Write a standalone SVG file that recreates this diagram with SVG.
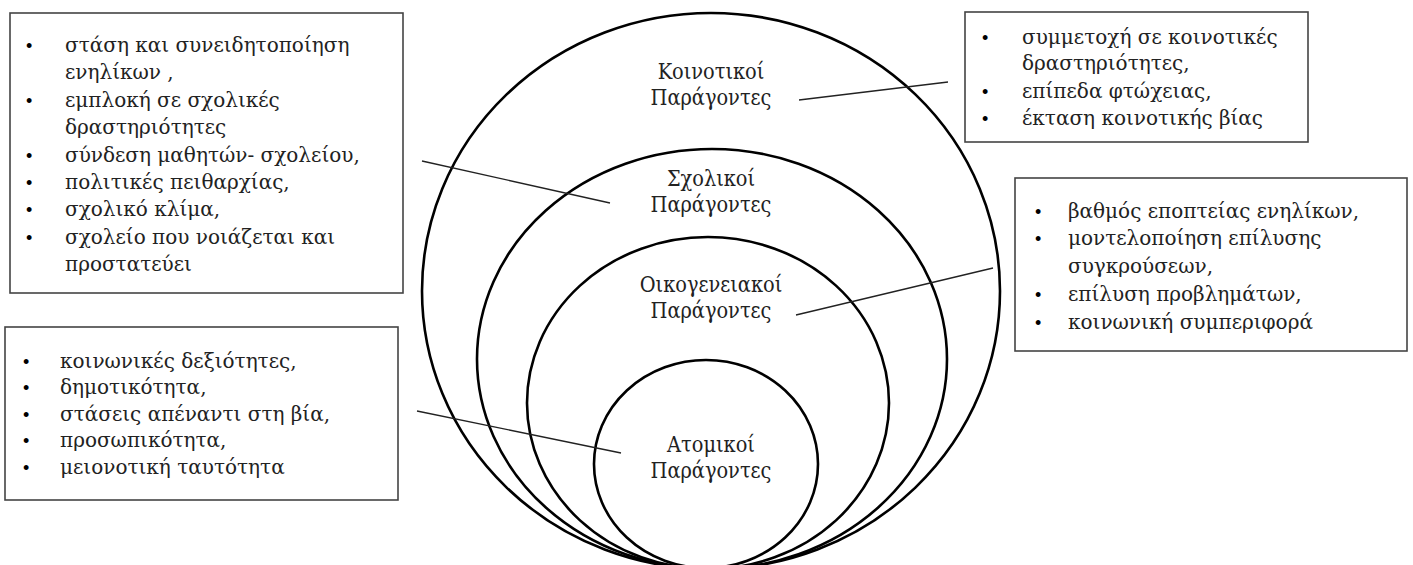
<svg xmlns="http://www.w3.org/2000/svg" width="1413" height="565" viewBox="0 0 1413 565">
<style>
.box{fill:#fff;stroke:#444;stroke-width:1.6}
.ring{fill:none;stroke:#000;stroke-width:2.6}
.t{font-family:"DejaVu Serif","Liberation Serif",serif;font-size:20px;fill:#222}
.b{font-family:"Liberation Sans",sans-serif;font-size:18px;fill:#000}
.lbl{font-family:"DejaVu Serif Condensed","DejaVu Serif","Liberation Serif",serif;font-size:21.5px;fill:#222;text-anchor:middle}
.ln{stroke:#222;stroke-width:1.3;fill:none}
</style>
<rect width="1413" height="565" fill="#fff"/>
<g id="rings">
<ellipse id="ring-community" class="ring" cx="711" cy="291" rx="289" ry="278"/>
<ellipse id="ring-school" class="ring" cx="712" cy="359" rx="235" ry="210"/>
<ellipse id="ring-family" class="ring" cx="708" cy="403" rx="181" ry="166"/>
<ellipse id="ring-individual" class="ring" cx="706" cy="464" rx="112" ry="104"/>
</g>
<g id="labels">
<g id="lbl-community"><text class="lbl" x="711" y="79">Κοινοτικοί</text><text class="lbl" x="711" y="105">Παράγοντες</text></g>
<g id="lbl-school"><text class="lbl" x="711" y="186">Σχολικοί</text><text class="lbl" x="711" y="212">Παράγοντες</text></g>
<g id="lbl-family"><text class="lbl" x="711" y="292">Οικογενειακοί</text><text class="lbl" x="711" y="318">Παράγοντες</text></g>
<g id="lbl-individual"><text class="lbl" x="711" y="452">Ατομικοί</text><text class="lbl" x="711" y="478">Παράγοντες</text></g>
</g>
<g id="connectors">
<line class="ln" x1="799" y1="100" x2="948" y2="82"/>
<line class="ln" x1="422" y1="161" x2="610" y2="203"/>
<line class="ln" x1="796" y1="315" x2="993" y2="268"/>
<line class="ln" x1="417" y1="411" x2="621" y2="453"/>
</g>
<g id="box-school">
<rect class="box" x="10" y="13" width="393" height="280"/>
<g class="b"><text x="26" y="52">•</text><text x="26" y="107">•</text><text x="26" y="162">•</text><text x="26" y="189">•</text><text x="26" y="216">•</text><text x="26" y="244">•</text></g>
<g class="t">
<text x="65" y="52">στάση και συνειδητοποίηση</text>
<text x="65" y="79">ενηλίκων ,</text>
<text x="65" y="107">εμπλοκή σε σχολικές</text>
<text x="65" y="134">δραστηριότητες</text>
<text x="65" y="162">σύνδεση μαθητών- σχολείου,</text>
<text x="65" y="189">πολιτικές πειθαρχίας,</text>
<text x="65" y="216">σχολικό κλίμα,</text>
<text x="65" y="244">σχολείο που νοιάζεται και</text>
<text x="65" y="271">προστατεύει</text>
</g>
</g>
<g id="box-individual">
<rect class="box" x="5" y="327" width="393" height="173"/>
<g class="b"><text x="23" y="368">•</text><text x="23" y="394">•</text><text x="23" y="421">•</text><text x="23" y="447">•</text><text x="23" y="474">•</text></g>
<g class="t">
<text x="60" y="368">κοινωνικές δεξιότητες,</text>
<text x="60" y="394">δημοτικότητα,</text>
<text x="60" y="421">στάσεις απέναντι στη βία,</text>
<text x="60" y="447">προσωπικότητα,</text>
<text x="60" y="474">μειονοτική ταυτότητα</text>
</g>
</g>
<g id="box-community">
<rect class="box" x="965" y="12" width="343" height="130"/>
<g class="b"><text x="982" y="44">•</text><text x="982" y="98">•</text><text x="982" y="125">•</text></g>
<g class="t">
<text x="1022" y="44">συμμετοχή σε κοινοτικές</text>
<text x="1022" y="70">δραστηριότητες,</text>
<text x="1022" y="98">επίπεδα φτώχειας,</text>
<text x="1022" y="125">έκταση κοινοτικής βίας</text>
</g>
</g>
<g id="box-family">
<rect class="box" x="1015" y="178" width="392" height="173"/>
<g class="b"><text x="1035" y="218">•</text><text x="1035" y="245">•</text><text x="1035" y="301">•</text><text x="1035" y="329">•</text></g>
<g class="t">
<text x="1068" y="218">βαθμός εποπτείας ενηλίκων,</text>
<text x="1068" y="245">μοντελοποίηση επίλυσης</text>
<text x="1068" y="273">συγκρούσεων,</text>
<text x="1068" y="301">επίλυση προβλημάτων,</text>
<text x="1068" y="329">κοινωνική συμπεριφορά</text>
</g>
</g>
</svg>
